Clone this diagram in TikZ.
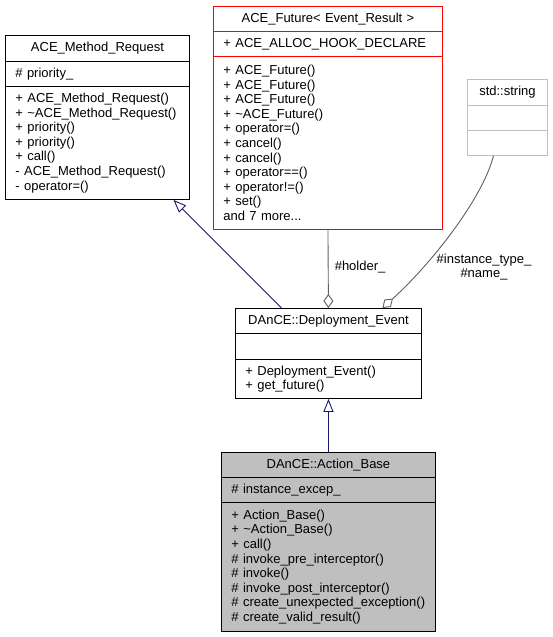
\documentclass[tikz,border=0pt]{standalone}
\usepackage{fontspec}
\setmainfont{Liberation Sans}
\usetikzlibrary{arrows.meta}

\definecolor{inhblue}{HTML}{191970}
\definecolor{usegray}{HTML}{606060}
\definecolor{extgray}{HTML}{BFBFBF}

\begin{document}
\begin{tikzpicture}[x=1pt, y=-1pt, line width=0.9pt,
  every node/.style={font=\fontsize{13}{14.6}\selectfont},
  cls/.style={draw, rectangle, anchor=north west, inner xsep=10pt, inner ysep=0pt, align=left},
  head/.style={cls, align=center},
  inherit/.style={draw=inhblue, -{Triangle[open, length=13pt, width=10pt]}},
  uses/.style={draw=usegray, -{Diamond[open, length=14pt, width=10pt]}}]

\useasboundingbox (0,0) rectangle (552,637);

% ACE_Method_Request
\node[head, minimum width=184pt, text width=164pt, minimum height=26pt] (mr) at (5,35) {ACE\_Method\_Request};
\node[cls, minimum width=184pt, text width=164pt, minimum height=25pt] (mra) at (5,61) {\# priority\_};
\node[cls, minimum width=184pt, text width=164pt, minimum height=113pt] (mrm) at (5,86)
  {+ ACE\_Method\_Request()\\+ \textasciitilde ACE\_Method\_Request()\\+ priority()\\+ priority()\\+ call()\\- ACE\_Method\_Request()\\- operator=()};

% ACE_Future< Event_Result >
\node[head, draw=red, minimum width=229pt, text width=209pt, minimum height=25pt] (af) at (213,6) {ACE\_Future< Event\_Result >};
\node[cls, draw=red, minimum width=229pt, text width=209pt, minimum height=25pt] (afa) at (213,31) {+ ACE\_ALLOC\_HOOK\_DECLARE};
\node[cls, draw=red, minimum width=229pt, text width=209pt, minimum height=173pt] (afm) at (213,56)
  {+ ACE\_Future()\\+ ACE\_Future()\\+ ACE\_Future()\\+ \textasciitilde ACE\_Future()\\+ operator=()\\+ cancel()\\+ cancel()\\+ operator==()\\+ operator!=()\\+ set()\\and 7 more...};

% std::string
\node[head, draw=extgray, minimum width=80pt, text width=60pt, minimum height=26pt] (ss) at (467,79) {std::string};
\node[cls, draw=extgray, minimum width=80pt, text width=60pt, minimum height=25pt] (ssa) at (467,105) {};
\node[cls, draw=extgray, minimum width=80pt, text width=60pt, minimum height=25pt] (ssm) at (467,130) {};

% DAnCE::Deployment_Event
\node[head, minimum width=186pt, text width=166pt, minimum height=25pt] (de) at (235,308) {DAnCE::Deployment\_Event};
\node[cls, minimum width=186pt, text width=166pt, minimum height=26pt] (dea) at (235,333) {};
\node[cls, minimum width=186pt, text width=166pt, minimum height=39pt] (dem) at (235,359)
  {+ Deployment\_Event()\\+ get\_future()};

% DAnCE::Action_Base
\node[head, fill=extgray, minimum width=214pt, text width=194pt, minimum height=25pt] (ab) at (221,452) {DAnCE::Action\_Base};
\node[cls, fill=extgray, minimum width=214pt, text width=194pt, minimum height=25pt] (aba) at (221,477) {\# instance\_excep\_};
\node[cls, fill=extgray, minimum width=214pt, text width=194pt, minimum height=129pt] (abm) at (221,502)
  {+ Action\_Base()\\+ \textasciitilde Action\_Base()\\+ call()\\\# invoke\_pre\_interceptor()\\\# invoke()\\\# invoke\_post\_interceptor()\\\# create\_unexpected\_exception()\\\# create\_valid\_result()};

% edges
\draw[inherit] ([xshift=-47pt]de.north) -- ([xshift=76pt]mrm.south);
\draw[inherit] (ab.north) -- (dem.south);
\draw[uses] (afm.south) -- (de.north);
\draw[uses] ([xshift=-14pt]ssm.south) .. controls (482,200) and (430,265) .. ([xshift=54pt]de.north);

\node[anchor=west] (holderlbl) at (331,267) {\#holder\_};
\node[align=center] (namelbl) at (484,267) {\#instance\_type\_\\\#name\_};

\end{tikzpicture}
\end{document}
